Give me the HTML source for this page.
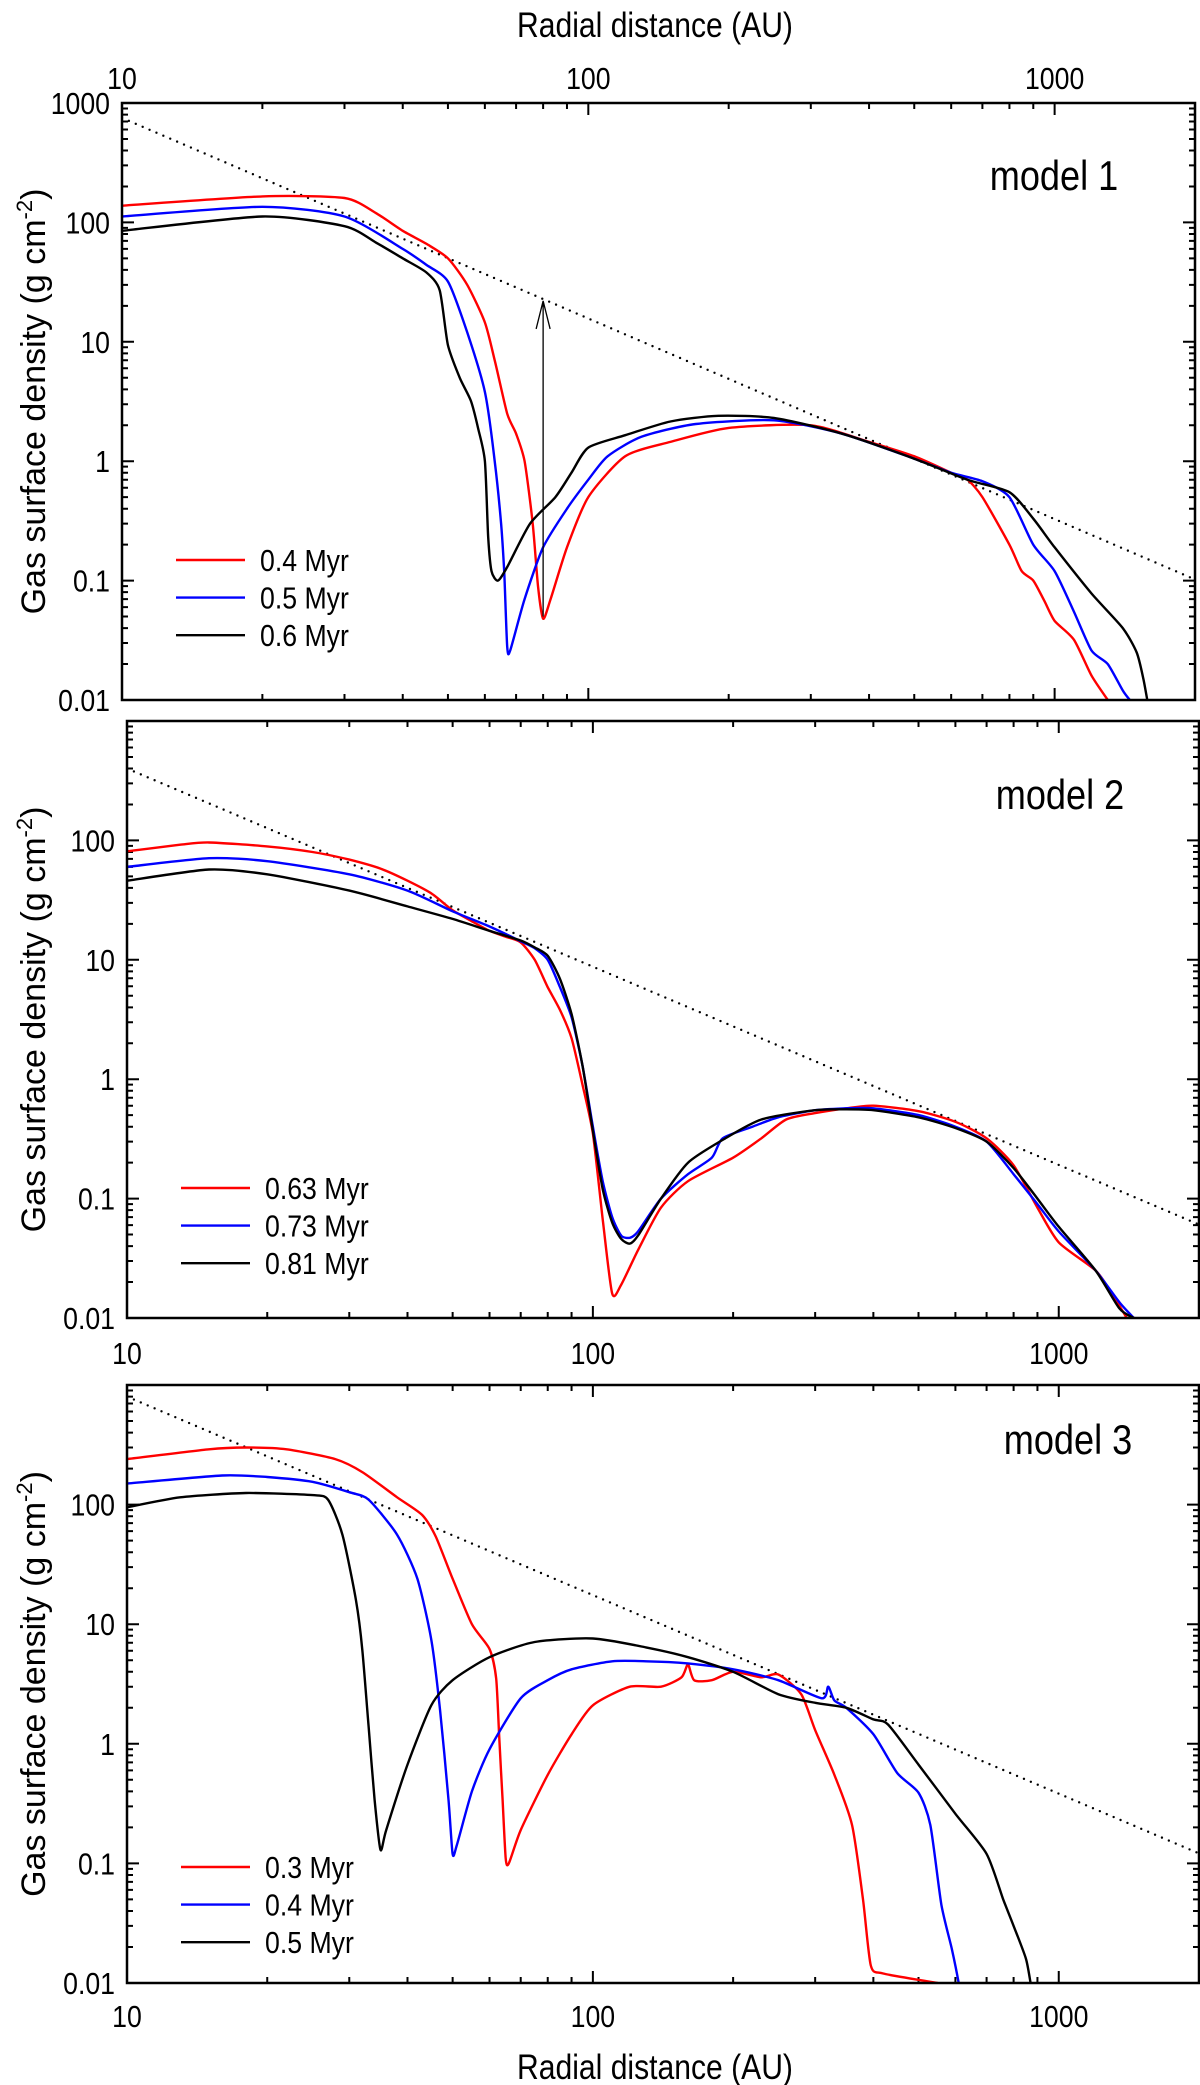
<!DOCTYPE html>
<html><head><meta charset="utf-8"><style>
html,body{margin:0;padding:0;background:#fff}
svg{display:block}
text{font-family:"Liberation Sans",sans-serif;fill:#000}
</style></head><body>
<svg id="chart" width="1200" height="2085" viewBox="0 0 1200 2085" xmlns="http://www.w3.org/2000/svg">
<text transform="translate(655,37) scale(0.86,1)" font-size="35" text-anchor="middle">Radial distance (AU)</text>
<text transform="translate(655,2079) scale(0.86,1)" font-size="35" text-anchor="middle">Radial distance (AU)</text>
</svg>
<script>
// x tick labels
const xTickValues = [10, 100, 1000];
const yTickValues = [0.01, 0.1, 1, 10, 100, 1000];
// model 1
const m1Labels = ["0.4 Myr", "0.5 Myr", "0.6 Myr"];
const m1RedR = [10,20,30,35,40,45,50,55,60,63,67,70,73,76,78,80,83,90,100,120,150,200,300,400,500,600,650,700,800,850,900,950,1000,1100,1200,1300];
const m1RedS = [138,165,160,120,85,66,50,30,14.5,7,2.5,1.7,1,0.3,0.09,0.048,0.07,0.19,0.5,1.1,1.45,1.9,2.0,1.45,1.1,0.8,0.7,0.5,0.2,0.12,0.1,0.068,0.046,0.032,0.016,0.01];
const m1BlueR = [10,20,30,40,45,50,55,60,63,65,66,67,68,73,80,90,100,110,130,170,250,350,500,600,700,800,900,1000,1100,1200,1300,1400,1450];
const m1BlueS = [112,135,112,60,44,32,12,3.8,1.0,0.3,0.12,0.028,0.026,0.07,0.19,0.4,0.7,1.1,1.6,2.05,2.2,1.7,1.05,0.8,0.68,0.5,0.2,0.12,0.055,0.026,0.02,0.012,0.01];
const m1BlackR = [10,20,30,35,40,45,48,50,53,56,58,60,61,62,64,67,75,85,92,100,120,150,190,250,350,500,650,800,900,1000,1200,1400,1500,1550,1580];
const m1BlackS = [85,112,93,68,50,38,27,9.4,5,3.2,1.9,1.0,0.23,0.12,0.1,0.13,0.3,0.5,0.8,1.3,1.65,2.15,2.4,2.3,1.7,1.05,0.7,0.55,0.33,0.19,0.078,0.04,0.025,0.015,0.01];
const m1Power = [750, 1.68];
const m1Arrow = [80, 0.05, 22];
// model 2
const m2Labels = ["0.63 Myr", "0.73 Myr", "0.81 Myr"];
const m2RedR = [10,13,15,20,25,30,35,40,45,50,55,60,65,70,75,80,85,90,95,100,105,110,115,125,140,160,200,230,260,300,350,400,500,600,700,800,900,1000,1200,1300,1400];
const m2RedS = [81,92,96,89,80,69,58,46,36,26,21,17.5,15.6,14,10,5.9,3.8,2.2,0.9,0.35,0.067,0.016,0.019,0.037,0.084,0.14,0.22,0.32,0.46,0.52,0.57,0.6,0.54,0.44,0.32,0.19,0.084,0.043,0.025,0.016,0.01];
const m2BlueR = [10,15,20,30,40,50,60,70,75,80,85,90,95,100,105,110,115,120,125,140,160,180,190,220,250,300,350,400,500,600,700,800,900,1000,1200,1350,1450];
const m2BlueS = [60,71,67,52,38,25.5,19,14.3,12.5,10,5.9,3.3,1.3,0.4,0.14,0.07,0.049,0.047,0.053,0.1,0.16,0.22,0.32,0.4,0.48,0.55,0.57,0.57,0.5,0.4,0.3,0.16,0.09,0.053,0.025,0.0135,0.01];
const m2BlackR = [10,15,20,30,40,50,60,70,75,80,85,90,95,100,105,110,115,120,125,140,160,190,230,300,350,400,500,600,700,800,900,1000,1200,1350,1450];
const m2BlackS = [46,57,52,38,28,22,17.5,14.5,12.7,10.8,6.9,3.5,1.3,0.37,0.12,0.063,0.046,0.042,0.049,0.1,0.2,0.31,0.46,0.55,0.56,0.55,0.48,0.39,0.3,0.18,0.1,0.058,0.025,0.012,0.01];
const m2Power = [400, 1.66];
// model 3
const m3Labels = ["0.3 Myr", "0.4 Myr", "0.5 Myr"];
const m3RedR = [10,15,18,22,28,32,38,43,46,50,55,60,62,63,64,65,66,70,80,90,100,120,140,155,160,165,180,200,230,250,280,300,330,360,380,395,420,550];
const m3RedS = [240,290,300,290,240,187,115,82,54,24,10,6.2,3.5,1.07,0.34,0.11,0.1,0.19,0.55,1.2,2.1,3.0,3.0,3.6,4.6,3.4,3.4,4.0,3.6,3.8,2.6,1.3,0.55,0.21,0.05,0.014,0.012,0.01];
const m3BlueR = [10,16,20,25,30,33,38,42,45,47,49,50,51,55,60,70,80,90,110,130,160,200,250,310,320,330,350,400,450,500,530,560,590,610];
const m3BlueS = [150,175,170,155,127,110,56,24,7.4,1.9,0.34,0.12,0.14,0.4,0.9,2.4,3.4,4.2,4.9,4.9,4.7,4.2,3.4,2.4,3.0,2.3,2.0,1.2,0.57,0.39,0.21,0.045,0.019,0.01];
const m3BlackR = [10,13,18,25,27,29,31,32,33,34,35,36,40,45,50,60,75,100,130,160,200,250,300,350,400,430,500,600,700,760,800,850,870];
const m3BlackS = [95,115,125,120,110,56,16,6.1,1.4,0.34,0.13,0.19,0.67,2.1,3.4,5.3,7.1,7.6,6.4,5.3,4.0,2.6,2.2,2.0,1.6,1.45,0.67,0.26,0.12,0.05,0.03,0.016,0.01];
const m3Power = [800, 1.66];

const NS = "http://www.w3.org/2000/svg";
const svg = document.getElementById("chart");
function mk(tag, attrs, parent) {
  const e = document.createElementNS(NS, tag);
  for (const k in attrs) e.setAttribute(k, attrs[k]);
  (parent || svg).appendChild(e);
  return e;
}
function smoothPath(pts) {
  // Catmull-Rom with reduced tension
  let d = "M" + pts[0][0].toFixed(1) + "," + pts[0][1].toFixed(1);
  const t = 0.35 / 3 * 3 / 3;
  for (let i = 0; i < pts.length - 1; i++) {
    const p0 = pts[Math.max(0, i - 1)], p1 = pts[i], p2 = pts[i + 1], p3 = pts[Math.min(pts.length - 1, i + 2)];
    const c1 = [p1[0] + (p2[0] - p0[0]) * t, p1[1] + (p2[1] - p0[1]) * t];
    const c2 = [p2[0] - (p3[0] - p1[0]) * t, p2[1] - (p3[1] - p1[1]) * t];
    d += "C" + c1[0].toFixed(1) + "," + c1[1].toFixed(1) + " " + c2[0].toFixed(1) + "," + c2[1].toFixed(1) + " " + p2[0].toFixed(1) + "," + p2[1].toFixed(1);
  }
  return d;
}
function panel(p) {
  const g = mk("g", {});
  
  
  const dec = (p.x1 - p.x0) / Math.log10(200);
  const ydec = (p.y1 - p.y0) / 5;
  const X = r => p.x0 + (Math.log10(r) - 1) * dec;
  const Y = s => p.y0 + (3 - Math.log10(s)) * ydec;
  const cid = "clip" + p.id;
  const cp = mk("clipPath", {id: cid}, g);
  mk("rect", {x: p.x0, y: p.y0, width: p.x1 - p.x0, height: p.y1 - p.y0}, cp);
  let d = "";
  for (let e = 1; e <= 3; e++) for (let k = 1; k <= 9; k++) {
    const v = k * Math.pow(10, e);
    if (v > 2000) continue;
    const x = X(v), L = k === 1 ? 12 : 6;
    d += `M${x},${p.y1}v${-L}M${x},${p.y0}v${L}`;
  }
  for (let e = -2; e <= 2; e++) for (let k = 1; k <= 9; k++) {
    const v = k * Math.pow(10, e);
    const y = Y(v), L = k === 1 ? 12 : 6;
    d += `M${p.x0},${y}h${L}M${p.x1},${y}h${-L}`;
  }
  const ticks = mk("path", {d: d, stroke: "#000", "stroke-width": 2, fill: "none"}, g);
  
  
  yTickValues.forEach(v => {
    if (v === 1000 && !p.top1000) return;
    const t = mk("text", {transform: `translate(${p.x0 - 12},${Y(v) + 11}) scale(0.86,1)`, "font-size": 31, "text-anchor": "end"}, g);
    
    
    t.textContent = String(v);
  });
  if (p.xLabY) xTickValues.forEach(v => {
    const t = mk("text", {transform: `translate(${X(v)},${p.xLabY}) scale(0.86,1)`, "font-size": 31, "text-anchor": "middle"}, g);
    
    
    t.textContent = String(v);
  });
  const cy = (p.y0 + p.y1) / 2;
  const yt = mk("text", {x: 0, y: 0, "font-size": 34, "text-anchor": "middle", transform: `translate(45,${cy}) rotate(-90)`}, g);
  
  
  yt.innerHTML = 'Gas surface density (g cm<tspan dy="-13" font-size="22">-2</tspan><tspan dy="13">)</tspan>';
  const pts = [10, 2000].map(r => [X(r), Y(p.power[0] * Math.pow(r / 10, -p.power[1]))]);
  const pl = mk("path", {d: `M${pts[0][0]},${pts[0][1]}L${pts[1][0]},${pts[1][1]}`, stroke: "#000", "stroke-width": 2.4, "stroke-dasharray": "0 7.5", "stroke-linecap": "round", fill: "none", "clip-path": `url(#${cid})`}, g);
  
  
  const colors = ["#ff0000", "#0000ff", "#000000"];
  p.series.forEach((s, i) => {
    const sp = s[0].map((r, j) => [X(r), Y(s[1][j])]);
    const path = mk("path", {d: smoothPath(sp), stroke: colors[i], "stroke-width": 2.4, fill: "none", "stroke-linejoin": "round", "clip-path": `url(#${cid})`}, g);
    
    
    const ly = p.legY + i * 37.6;
    const ll = mk("line", {x1: p.x0 + 54, x2: p.x0 + 123, y1: ly, y2: ly, stroke: colors[i], "stroke-width": 2.4}, g);
    
    
    const lt = mk("text", {transform: `translate(${p.x0 + 138},${ly + 11}) scale(0.86,1)`, "font-size": 31}, g);
    
    
    lt.textContent = p.labels[i];
  });
  if (p.arrow) {
    const ax = X(p.arrow[0]), yA = Y(p.arrow[1]), yB = Y(p.arrow[2]);
    const ar = mk("path", {d: `M${ax},${yA}L${ax},${yB}M${ax - 7},${yB + 28}L${ax},${yB}L${ax + 7},${yB + 28}`, stroke: "#000", "stroke-width": 1.3, fill: "none"}, g);
    
    
  }
  const ml = mk("text", {transform: `translate(${p.modelX},${p.modelY}) scale(0.86,1)`, "font-size": 42, "text-anchor": "middle"}, g);
  
  
  ml.textContent = p.model;
  const fr = mk("rect", {x: p.x0, y: p.y0, width: p.x1 - p.x0, height: p.y1 - p.y0, fill: "none", stroke: "#000", "stroke-width": 2.5}, g);
  
  
}
panel({id: 1, name: "model-1-panel", x0: 122, x1: 1195, y0: 103, y1: 700, xLabY: 89, top1000: true,
  series: [[m1RedR, m1RedS], [m1BlueR, m1BlueS], [m1BlackR, m1BlackS]], labels: m1Labels,
  power: m1Power, arrow: m1Arrow, legY: 560, model: "model 1", modelX: 1054, modelY: 190});
panel({id: 2, name: "model-2-panel", x0: 127, x1: 1199, y0: 721, y1: 1318, xLabY: 1364, top1000: false,
  series: [[m2RedR, m2RedS], [m2BlueR, m2BlueS], [m2BlackR, m2BlackS]], labels: m2Labels,
  power: m2Power, legY: 1188, model: "model 2", modelX: 1060, modelY: 809});
panel({id: 3, name: "model-3-panel", x0: 127, x1: 1199, y0: 1385, y1: 1983, xLabY: 2027, top1000: false,
  series: [[m3RedR, m3RedS], [m3BlueR, m3BlueS], [m3BlackR, m3BlackS]], labels: m3Labels,
  power: m3Power, legY: 1867, model: "model 3", modelX: 1068, modelY: 1454});
</script>
</body></html>
